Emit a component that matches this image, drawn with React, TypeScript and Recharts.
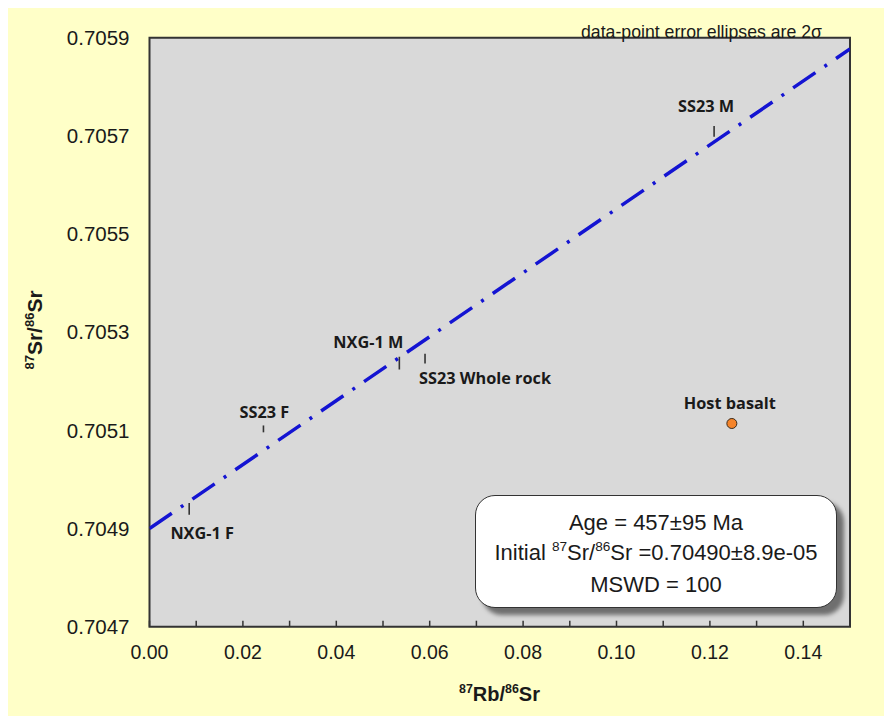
import React from 'react';
import { ScatterChart, Scatter, XAxis, YAxis, ReferenceArea, ErrorBar } from 'recharts';

// ---- data ----
const sampleNames = ['NXG-1 F', 'SS23 F', 'NXG-1 M', 'SS23 Whole rock', 'SS23 M'];
const sampleRbSr = [0.0085, 0.0244, 0.0535, 0.059, 0.1209];
const sampleSrSr = [0.70494, 0.705103, 0.705237, 0.705246, 0.705709];
const sampleErr = [0.000012, 0.000007, 0.000013, 0.00001, 0.000011];

const hostNames = ['Host basalt'];
const hostRbSr = [0.1247];
const hostSrSr = [0.705114];

const isochronX = [0, 0.15];
const isochronY = [0.7049, 0.705877];

const xTicks = [0, 0.01, 0.02, 0.03, 0.04, 0.05, 0.06, 0.07, 0.08, 0.09, 0.1, 0.11, 0.12, 0.13, 0.14, 0.15];
const yTicks = [0.7047, 0.7049, 0.7051, 0.7053, 0.7055, 0.7057, 0.7059];

// ---- styling (label offsets in px from point) ----
const labelOffsets: Record<string, [number, number]> = {
  'NXG-1 F': [13, 24],
  'SS23 F': [1, -17],
  'NXG-1 M': [-31, -21],
  'SS23 Whole rock': [60, 19],
  'SS23 M': [-8, -25],
  'Host basalt': [-2, -20],
};

const samples = sampleNames.map((name, i) => ({ name, x: sampleRbSr[i], y: sampleSrSr[i], err: sampleErr[i] }));
const host = hostNames.map((name, i) => ({ name, x: hostRbSr[i], y: hostSrSr[i] }));
const isochron = isochronX.map((x, i) => ({ x, y: isochronY[i] }));

const LABEL_FONT = '"Open Sans", "Noto Sans", sans-serif';
const AXIS_FONT = '"Liberation Sans", Arial, sans-serif';

const renderLabel = (cx: number, cy: number, name: string) => {
  const off = labelOffsets[name] || [0, -15];
  return (
    <text
      x={cx + off[0]}
      y={cy + off[1]}
      textAnchor="middle"
      dominantBaseline="central"
      fontFamily={LABEL_FONT}
      fontWeight={700}
      fontSize={16.3}
      fill="#1a1a1a"
    >
      {name}
    </text>
  );
};

const SampleShape = (props: any) => {
  const { cx, cy, payload } = props;
  if (cx == null || cy == null) return <g />;
  return <g>{renderLabel(cx, cy, payload.name)}</g>;
};

const HostShape = (props: any) => {
  const { cx, cy, payload } = props;
  if (cx == null || cy == null) return <g />;
  return (
    <g>
      <circle cx={cx} cy={cy} r={5} fill="#F5842A" stroke="#3a2a1a" strokeWidth={1} />
      {renderLabel(cx, cy, payload.name)}
    </g>
  );
};

const EmptyShape = () => <g />;

const sup: React.CSSProperties = { fontSize: '0.62em', position: 'relative', top: '-0.62em' };

export default function App() {
  const W = 876;
  const H = 708;
  return (
    <div style={{ position: 'relative', width: W, height: H, background: '#FFFFC8', fontFamily: AXIS_FONT }}>
      <ScatterChart
        width={W}
        height={H}
        margin={{ top: 29.7, right: 34, bottom: 29.3, left: 41.5 }}
      >
        <XAxis
          type="number"
          dataKey="x"
          domain={[0, 0.15]}
          ticks={xTicks}
          interval={0}
          allowDataOverflow
          axisLine={false}
          tickSize={-6}
          tickMargin={24}
          tickLine={{ stroke: '#333', strokeWidth: 1.5 }}
          tick={{ fill: '#1a1a1a', fontSize: 19.5, fontFamily: AXIS_FONT }}
          tickFormatter={(v: number) => (Math.round(v * 100) % 2 === 0 ? v.toFixed(2) : '')}
          height={60}
        />
        <YAxis
          type="number"
          dataKey="y"
          domain={[0.7047, 0.7059]}
          ticks={yTicks}
          interval={0}
          allowDataOverflow
          axisLine={false}
          tickLine={false}
          tickSize={0}
          tickMargin={20}
          tick={{ fill: '#1a1a1a', fontSize: 20.5, fontFamily: AXIS_FONT }}
          tickFormatter={(v: number) => v.toFixed(4)}
          width={100}
        />
        <ReferenceArea
          x1={0}
          x2={0.15}
          y1={0.7047}
          y2={0.7059}
          fill="#D9D9D9"
          fillOpacity={1}
          stroke="#333"
          strokeWidth={2}
          ifOverflow="visible"
        />
        <Scatter
          data={isochron}
          line={{ stroke: '#1414D2', strokeWidth: 3.5, strokeDasharray: '27 11 3 11' }}
          shape={EmptyShape}
          isAnimationActive={false}
        />
        <Scatter data={samples} shape={SampleShape} isAnimationActive={false}>
          <ErrorBar dataKey="err" direction="y" width={0} stroke="#333" strokeWidth={1.6} />
        </Scatter>
        <Scatter data={host} shape={HostShape} isAnimationActive={false} />
      </ScatterChart>

      {/* note at top */}
      <div
        style={{
          position: 'absolute',
          right: 62,
          top: 14,
          fontSize: 17.7,
          lineHeight: '20px',
          color: '#1a1a1a',
          whiteSpace: 'nowrap',
        }}
      >
        data-point error ellipses are 2σ
      </div>

      {/* y axis title */}
      <div
        style={{
          position: 'absolute',
          left: 27 - 70,
          top: 322 - 13,
          width: 140,
          height: 26,
          lineHeight: '26px',
          textAlign: 'center',
          transform: 'rotate(-90deg)',
          fontWeight: 700,
          fontSize: 21,
          color: '#1a1a1a',
          whiteSpace: 'nowrap',
        }}
      >
        <span style={sup}>87</span>Sr/<span style={sup}>86</span>Sr
      </div>

      {/* x axis title */}
      <div
        style={{
          position: 'absolute',
          left: 141.5,
          width: 700,
          top: 673,
          height: 26,
          lineHeight: '26px',
          textAlign: 'center',
          fontWeight: 700,
          fontSize: 20,
          color: '#1a1a1a',
          whiteSpace: 'nowrap',
        }}
      >
        <span style={sup}>87</span>Rb/<span style={sup}>86</span>Sr
      </div>

      {/* result box */}
      <div
        style={{
          position: 'absolute',
          left: 467,
          top: 487,
          width: 362,
          height: 113,
          boxSizing: 'border-box',
          background: '#fff',
          border: '1.5px solid #333',
          borderRadius: 20,
          boxShadow: '7px 7px 4px #6f6f6f',
          paddingTop: 12,
          textAlign: 'center',
          fontSize: 22,
          lineHeight: '29.5px',
          color: '#1a1a1a',
          whiteSpace: 'nowrap',
        }}
      >
        <div>Age = 457±95 Ma</div>
        <div>
          Initial <span style={sup}>87</span>Sr/<span style={sup}>86</span>Sr =0.70490±8.9e-05
        </div>
        <div>MSWD = 100</div>
      </div>
    </div>
  );
}
